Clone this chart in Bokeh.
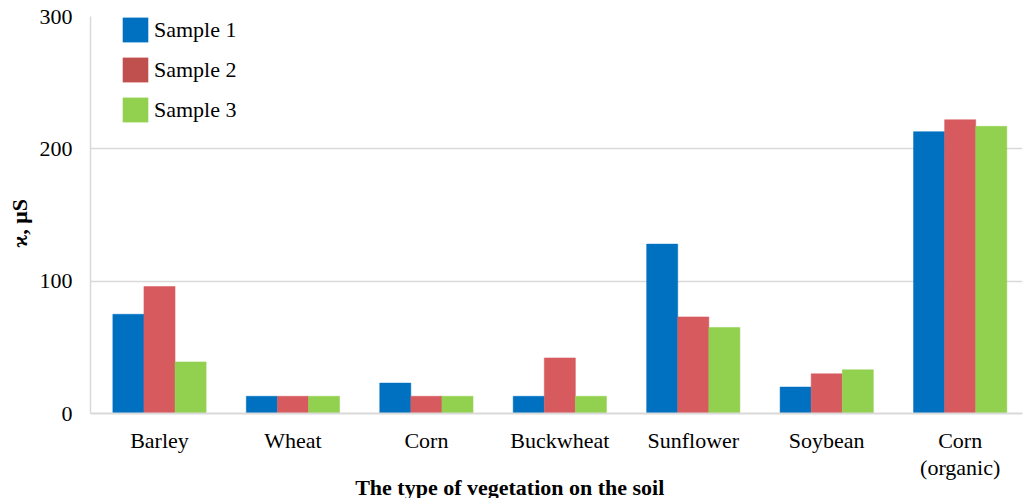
from bokeh.plotting import figure
from bokeh.models import ColumnDataSource, Range1d, Legend, LegendItem, FixedTicker
from bokeh.transform import dodge
from bokeh.embed import file_html
from bokeh.resources import INLINE

categories = ["Barley", "Wheat", "Corn", "Buckwheat", "Sunflower", "Soybean", "Corn\n(organic)"]
sample1 = [75, 13, 23, 13, 128, 20, 213]
sample2 = [96, 13, 13, 42, 73, 30, 222]
sample3 = [39, 13, 13, 13, 65, 33, 217]
series_names = ["Sample 1", "Sample 2", "Sample 3"]
bar_colors = ["#0070C0", "#D65A5E", "#92D050"]
legend_colors = ["#0070C0", "#C0504D", "#92D050"]
y_ticks = [0, 100, 200, 300]
x_title = "The type of vegetation on the soil"
y_title = "ϰ, μS"

FONT = "Liberation Serif"
NBSP = "\u00a0"

xpos = [i + 0.5 for i in range(len(categories))]
src = ColumnDataSource(dict(x=xpos, s1=sample1, s2=sample2, s3=sample3))

p = figure(frame_width=932, frame_height=397, output_backend="svg", toolbar_location=None,
           x_range=Range1d(-0.017, 6.967),
           y_range=Range1d(0, 300),
           min_border_left=90, min_border_right=2, min_border_top=16, min_border_bottom=0)
p.outline_line_color = None
p.background_fill_color = "white"
p.border_fill_color = "white"

w = 0.233
offsets = [-w, 0, w]
for key, off, col in zip(["s1", "s2", "s3"], offsets, bar_colors):
    p.vbar(x=dodge("x", off), top=key, width=w, bottom=0,
           source=src, fill_color=col, line_color=col, line_width=0.5)

# legend swatches (zero-height dummy bars)
items = []
for name, col in zip(series_names, legend_colors):
    dummy = p.vbar(x=[xpos[0]], top=[0], bottom=[0], width=0.01,
                   fill_color=col, line_color=None)
    items.append(LegendItem(label=name, renderers=[dummy]))

legend = Legend(items=items, location=(29, 288), glyph_width=32, glyph_height=31,
                spacing=9, padding=0, margin=0, label_standoff=3,
                border_line_color=None, background_fill_alpha=0,
                label_text_font=FONT, label_text_font_size="22px", label_text_color="#000000")
p.add_layout(legend)

# y axis
p.yaxis.ticker = FixedTicker(ticks=y_ticks)
p.yaxis.axis_line_color = "#D9D9D9"
p.yaxis.axis_line_width = 1.5
p.yaxis.major_tick_line_color = None
p.yaxis.minor_tick_line_color = None
p.yaxis.major_tick_out = 0
p.yaxis.minor_tick_out = 0
p.yaxis.major_label_text_font = FONT
p.yaxis.major_label_text_font_size = "22px"
p.yaxis.major_label_text_color = "#000000"
p.yaxis.major_label_standoff = 18
p.yaxis.axis_label = y_title + NBSP * 3
p.yaxis.axis_label_text_font = FONT
p.yaxis.axis_label_text_font_style = "bold"
p.yaxis.axis_label_text_font_size = "22px"
p.yaxis.axis_label_text_color = "#000000"
p.yaxis.axis_label_standoff = 5

# x axis
p.xaxis.ticker = FixedTicker(ticks=xpos)
p.xaxis.major_label_overrides = {x: c for x, c in zip(xpos, categories)}
p.xaxis.axis_line_color = "#D9D9D9"
p.xaxis.axis_line_width = 2
p.xaxis.major_tick_line_color = None
p.xaxis.minor_tick_line_color = None
p.xaxis.major_tick_out = 0
p.xaxis.minor_tick_out = 0
p.xaxis.major_label_text_font = FONT
p.xaxis.major_label_text_font_size = "22px"
p.xaxis.major_label_text_color = "#000000"
p.xaxis.major_label_text_line_height = 1.1
p.xaxis.major_label_standoff = 14
p.xaxis.axis_label = x_title + NBSP * 17
p.xaxis.axis_label_text_font = FONT
p.xaxis.axis_label_text_font_style = "bold"
p.xaxis.axis_label_text_font_size = "22px"
p.xaxis.axis_label_text_color = "#000000"
p.xaxis.axis_label_standoff = -8

p.xgrid.grid_line_color = None
p.ygrid.ticker = FixedTicker(ticks=[100, 200])
p.ygrid.grid_line_color = "#D9D9D9"
p.ygrid.grid_line_width = 1.5

open("out.html", "w").write(file_html(p, INLINE))
